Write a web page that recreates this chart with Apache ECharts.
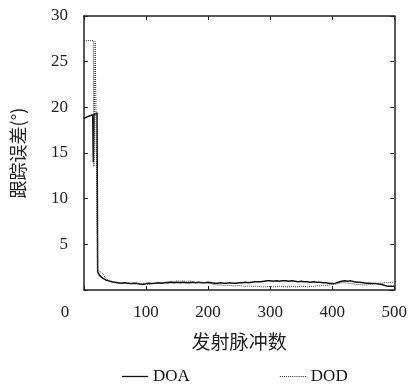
<!DOCTYPE html>
<html><head><meta charset="utf-8">
<script src="https://cdn.jsdelivr.net/npm/echarts@6/dist/echarts.min.js"></script>
<style>html,body{margin:0;padding:0;background:#fff}#c{width:410px;height:386px}</style>
</head><body><div id="c"></div>
<script>
var xTicks = [0, 100, 200, 300, 400, 500];
var yTicks = [5, 10, 15, 20, 25, 30];
var doaX = [0, 14, 15, 16, 21, 22, 24,
  25,30,35,40,45,50,55,60,65,70,75,80,85,90,95,100,105,110,115,120,125,130,135,140,145,150,155,160,165,170,175,180,185,190,195,200,
  205,210,215,220,225,230,235,240,245,250,255,260,265,270,275,280,285,290,295,300,305,310,315,320,325,330,335,340,345,350,355,360,365,370,375,380,385,390,395,400,
  405,410,415,420,425,430,435,440,445,450,455,460,465,470,475,480,485,490,495,500];
var doaY = [18.8, 19.2, 14.0, 19.2, 19.4, 2.0, 1.8,
  1.6,1.3,1.1,1.0,0.9,0.85,0.8,0.75,0.8,0.75,0.7,0.75,0.7,0.65,0.6,0.7,0.75,0.7,0.75,0.8,0.75,0.8,0.8,0.85,0.8,0.85,0.8,0.85,0.8,0.8,0.85,0.8,0.85,0.8,0.8,0.85,
  0.8,0.75,0.75,0.8,0.75,0.75,0.8,0.75,0.75,0.8,0.8,0.85,0.8,0.85,0.9,0.9,0.9,0.95,1.0,1.0,0.95,1.0,0.95,1.0,1.0,0.95,1.0,0.95,0.9,0.95,0.9,0.9,0.85,0.9,0.85,0.85,0.8,0.8,0.75,0.7,
  0.75,0.85,0.95,1.0,0.95,1.0,0.9,0.85,0.85,0.8,0.75,0.75,0.7,0.7,0.65,0.6,0.5,0.4,0.4,0.4];
var dodX = [0, 15, 16, 18, 21, 22, 24,
  25,30,35,40,45,50,55,60,65,70,75,80,85,90,95,100,105,110,115,120,125,130,135,140,145,150,155,160,165,170,175,180,185,190,195,200,
  205,210,215,220,225,230,235,240,245,250,255,260,265,270,275,280,285,290,295,300,305,310,315,320,325,330,335,340,345,350,355,360,365,370,375,380,385,390,395,400,
  405,410,415,420,425,430,435,440,445,450,455,460,465,470,475,480,485,490,495,500];
var dodY = [27.3, 27.3, 13.5, 27.2, 27.2, 2.2, 2.2,
  2.1,1.8,1.3,1.0,0.9,0.8,0.75,0.7,0.75,0.8,0.7,0.75,0.8,0.6,0.7,0.65,0.6,0.7,0.75,0.7,0.8,0.85,0.9,0.95,0.9,1.0,0.95,1.0,0.9,1.0,0.9,0.85,0.8,0.85,0.8,0.75,
  0.7,0.6,0.55,0.55,0.5,0.5,0.5,0.45,0.45,0.5,0.45,0.4,0.45,0.4,0.4,0.4,0.35,0.35,0.35,0.4,0.35,0.35,0.4,0.35,0.35,0.35,0.4,0.35,0.35,0.4,0.4,0.35,0.4,0.4,0.45,0.45,0.5,0.5,0.55,0.6,
  0.65,0.7,0.8,0.8,0.75,0.7,0.65,0.6,0.6,0.55,0.55,0.6,0.65,0.7,0.75,0.75,0.8,0.8,0.85,0.85];

function pairs(xs, ys) { return xs.map(function (x, i) { return [x, ys[i]]; }); }

var serif = '"Liberation Serif", "DejaVu Serif", serif';
var cjk = '"Noto Sans CJK SC", sans-serif';
var axisLineStyle = { color: '#222', width: 1.5 };
var tickStyle = { show: true, inside: true, length: 4, lineStyle: { color: '#222', width: 1 } };

var dots = '';
for (var k = 0; k < 26; k += 2) { dots += 'M' + k + ',5 L' + (k + 1) + ',5 L' + (k + 1) + ',6 L' + k + ',6 Z '; }

var chart = echarts.init(document.getElementById('c'), null, { renderer: 'canvas' });
chart.setOption({
  animation: false,
  backgroundColor: '#fff',
  grid: { left: 84, top: 16, right: 15, bottom: 96, containLabel: false },
  legend: {
    top: 363, left: 117, itemGap: 90, itemWidth: 26, itemHeight: 10,
    textStyle: { fontFamily: serif, fontSize: 17, color: '#111', padding: [0, 0, 0, 0] },
    data: [
      { name: 'DOA', icon: 'path://M0,5 L26,5 L26,6.3 L0,6.3 Z' },
      { name: 'DOD', icon: 'path://' + dots }
    ]
  },
  xAxis: [{
    type: 'value', min: 0, max: 500, interval: 100, position: 'bottom',
    name: '发射脉冲数', nameLocation: 'middle', nameGap: 42,
    nameTextStyle: { fontFamily: cjk, fontSize: 19, color: '#222' },
    axisLine: { show: true, onZero: false, lineStyle: axisLineStyle },
    axisTick: tickStyle,
    axisLabel: {
      margin: 14, fontFamily: serif, fontSize: 17, color: '#222',
      formatter: function (v) { return v === 0 ? '{z|0}' : String(v); },
      rich: { z: { fontFamily: serif, fontSize: 17, color: '#222', padding: [0, 38, 0, 0] } }
    },
    splitLine: { show: false }
  }, {
    type: 'value', min: 0, max: 500, interval: 100, position: 'top',
    axisLine: { show: true, onZero: false, lineStyle: axisLineStyle },
    axisTick: tickStyle,
    axisLabel: { show: false }, splitLine: { show: false }
  }],
  yAxis: [{
    type: 'value', min: 0, max: 30, interval: 5, position: 'left',
    name: '跟踪误差(°)', nameLocation: 'middle', nameGap: 57, nameRotate: 90,
    nameTextStyle: { fontFamily: cjk, fontSize: 18, color: '#222' },
    axisLine: { show: true, onZero: false, lineStyle: axisLineStyle },
    axisTick: tickStyle,
    axisLabel: {
      margin: 16, fontFamily: serif, fontSize: 17, color: '#222',
      formatter: function (v) { return yTicks.indexOf(v) >= 0 ? String(v) : ''; }
    },
    splitLine: { show: false }
  }, {
    type: 'value', min: 0, max: 30, interval: 5, position: 'right',
    axisLine: { show: true, onZero: false, lineStyle: axisLineStyle },
    axisTick: tickStyle,
    axisLabel: { show: false }, splitLine: { show: false }
  }],
  series: [{
    name: 'DOA', type: 'line', xAxisIndex: 0, yAxisIndex: 0,
    data: pairs(doaX, doaY), symbol: 'none', showSymbol: false,
    lineStyle: { color: '#111', width: 1.5 }, itemStyle: { color: '#111' }
  }, {
    name: 'DOD', type: 'line', xAxisIndex: 0, yAxisIndex: 0,
    data: pairs(dodX, dodY), symbol: 'none', showSymbol: false,
    lineStyle: { color: '#333', width: 1, type: [1, 1] }, itemStyle: { color: '#333' }
  }]
});
</script></body></html>
